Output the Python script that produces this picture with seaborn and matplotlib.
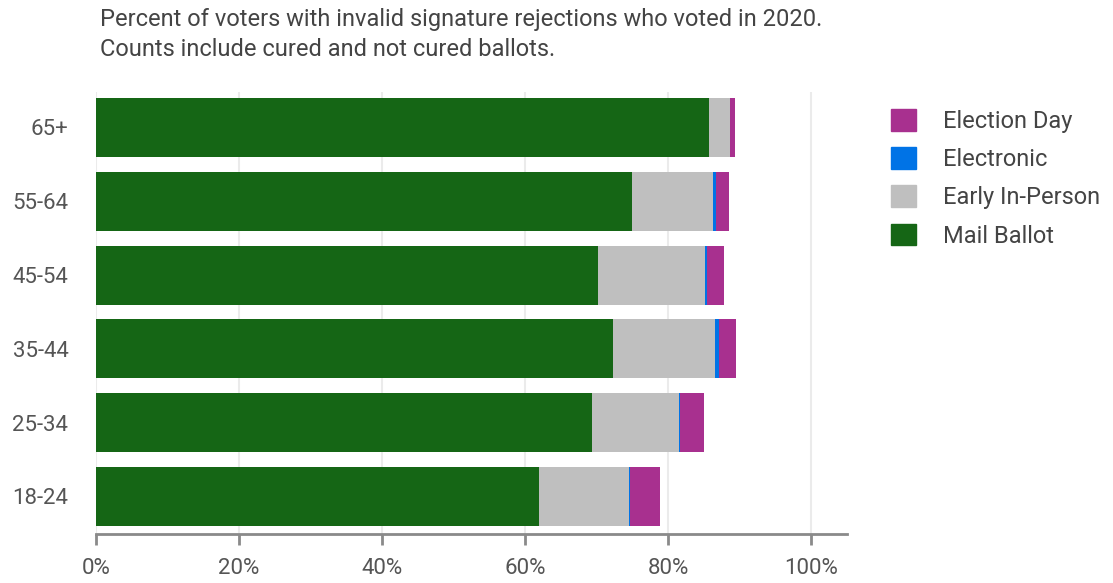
import pandas as pd
import matplotlib.pyplot as plt
import matplotlib.patches as mpatches
import seaborn as sns

# Data (percent of voters)
age_groups = ['65+', '55-64', '45-54', '35-44', '25-34', '18-24']
mail_ballot = [85.7, 74.9, 70.2, 72.3, 69.3, 62.0]
early_in_person = [3.0, 11.4, 14.9, 14.3, 12.2, 12.5]
electronic = [0.0, 0.4, 0.3, 0.5, 0.2, 0.1]
election_day = [0.7, 1.8, 2.4, 2.4, 3.3, 4.3]
x_ticks = [0, 20, 40, 60, 80, 100]

colors = {
    'Election Day': '#a8308f',
    'Electronic': '#0073e6',
    'Early In-Person': '#bfbfbf',
    'Mail Ballot': '#156615',
}

df = pd.DataFrame({
    'Age': age_groups,
    'Mail Ballot': mail_ballot,
    'Early In-Person': early_in_person,
    'Electronic': electronic,
    'Election Day': election_day,
})

# cumulative ends for stacking
df['cum_mail'] = df['Mail Ballot']
df['cum_early'] = df['cum_mail'] + df['Early In-Person']
df['cum_elec'] = df['cum_early'] + df['Electronic']
df['cum_day'] = df['cum_elec'] + df['Election Day']

sns.set_theme(style='white')
plt.rcParams['font.family'] = ['Roboto', 'DejaVu Sans']

fig = plt.figure(figsize=(11.13, 5.83), dpi=100)
ax = fig.add_axes([0.0863, 0.0832, 0.761 - 0.0863, 0.8427 - 0.0832])

# draw from the longest cumulative bar down so segments overlap into a stack
for col, name in [('cum_day', 'Election Day'), ('cum_elec', 'Electronic'),
                  ('cum_early', 'Early In-Person'), ('cum_mail', 'Mail Ballot')]:
    sns.barplot(data=df, x=col, y='Age', order=age_groups, orient='h',
                color=colors[name], width=0.8, saturation=1, linewidth=0,
                ax=ax, zorder=3)

ax.set_xlim(0, 105)
ax.set_ylim(5.515, -0.485)
ax.set_xticks(x_ticks)
ax.set_xticklabels([f'{t}%' for t in x_ticks])
ax.set_xlabel('')
ax.set_ylabel('')

ax.grid(True, axis='x', color='#ebebeb', linewidth=1.5, zorder=0)
ax.set_axisbelow(True)
for side in ['top', 'right', 'left']:
    ax.spines[side].set_visible(False)
ax.spines['bottom'].set_color('#8a8a8a')
ax.spines['bottom'].set_linewidth(2)

ax.tick_params(axis='x', length=8, width=2, color='#8a8a8a', pad=9,
               labelsize=16, labelcolor='#555555', bottom=True)
ax.tick_params(axis='y', length=0, pad=20, labelsize=16, labelcolor='#555555')

fig.text(100 / 1113, 1 - 8 / 583,
         'Percent of voters with invalid signature rejections who voted in 2020.\n'
         'Counts include cured and not cured ballots.',
         ha='left', va='top', fontsize=17, color='#444444', linespacing=1.4)

handles = [mpatches.Patch(color=colors[n], label=n)
           for n in ['Election Day', 'Electronic', 'Early In-Person', 'Mail Ballot']]
fig.legend(handles=handles, loc='upper left', bbox_to_anchor=(891 / 1113, 1 - 109 / 583),
           frameon=False, fontsize=17, labelcolor='#444444',
           handlelength=1.05, handleheight=1.05, handletextpad=1.15,
           labelspacing=0.6, borderpad=0, borderaxespad=0)

plt.savefig('out.png', dpi=100)
